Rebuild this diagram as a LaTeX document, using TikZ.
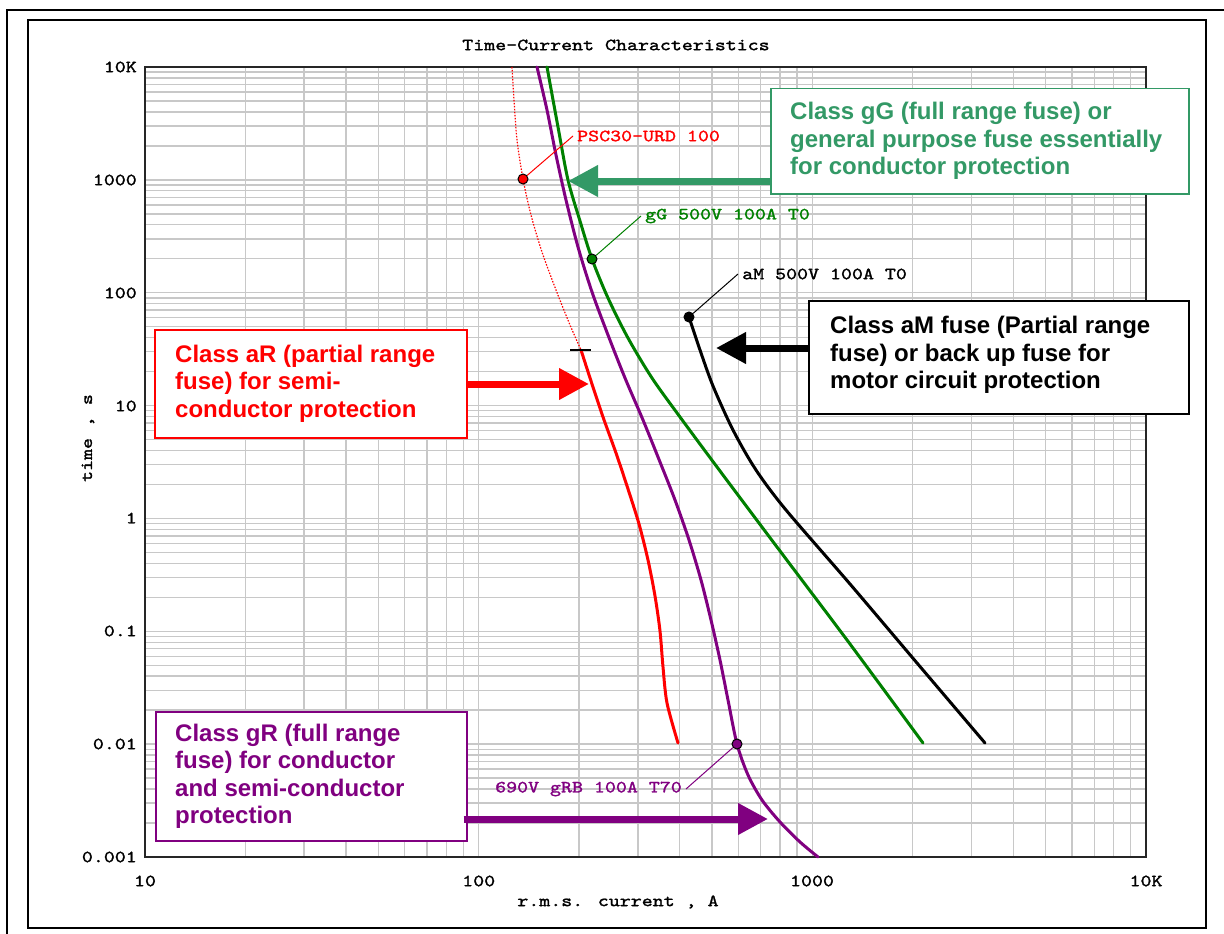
\documentclass[tikz,border=0pt]{standalone}
\usepackage{fontspec}
\setmainfont{Liberation Sans}
\newfontfamily\chartmono[FakeStretch=1.23,FakeBold=1.6]{lmmono10-regular.otf}
\usetikzlibrary{arrows.meta}

\definecolor{boxgreen}{RGB}{51,153,102}
\definecolor{curvegreen}{RGB}{0,128,0}
\definecolor{fusepurple}{RGB}{128,0,128}
\definecolor{gridgray}{RGB}{200,200,200}

\tikzset{
  monotext/.style={font=\chartmono\fontsize{17}{19}\selectfont, inner sep=0pt},
  gridline/.style={draw=gridgray, line width=1.4pt},
  fusecurve/.style={line width=3pt, line join=round, line cap=round},
  leader/.style={line width=1pt},
  marker/.style={circle, draw=black, line width=1pt, minimum size=10pt, inner sep=0pt},
  calloutbox/.style={draw, fill=white, line width=1.5pt, inner sep=0pt, anchor=north west},
  callouttext/.style={anchor=west, align=left, inner sep=0pt,
    font=\bfseries\fontsize{24}{27.5}\selectfont},
  bigarrow/.style={line width=7pt, -{Triangle[length=30pt,width=30pt]}},
  frameline/.style={line width=2pt, black},
}

\begin{document}
\begin{tikzpicture}[x=1pt,y=-1pt]
\useasboundingbox (0,0) rectangle (1224,934);

% page frames
\draw[frameline] (7,934) -- (7,10) -- (1224,10);
\draw[frameline] (28,20) rectangle (1206,928);

% logarithmic grid: current 10 A .. 10 kA, time 1 ms .. 10 ks
\foreach \d in {0,1,2} {
  \foreach \m in {1,...,9} {
    \pgfmathsetmacro\gx{145+333.67*(\d+log10(\m))}
    \draw[gridline] (\gx,67) -- (\gx,857);
  }
}
\foreach \d in {0,...,6} {
  \foreach \m in {1,...,9} {
    \pgfmathsetmacro\gy{857-112.86*(\d+log10(\m))}
    \draw[gridline] (145,\gy) -- (1146,\gy);
  }
}
\draw[line width=1.6pt, black!85] (145,67) rectangle (1146,857);

% axis labels
\node[monotext] (title) at (616,45) {Time-Current Characteristics};
\foreach \y/\t [count=\i] in {67/10K,180/1000,293/100,406/10,518/1,631/0.1,744/0.01,857/0.001}
  \node[monotext, anchor=east] (ytick\i) at (137,\y) {\t};
\foreach \x/\t [count=\i] in {145/10,478.7/100,812/1000,1146/10K}
  \node[monotext] (xtick\i) at (\x,881) {\t};
\node[monotext] (xtitle) at (618,902) {r.m.s. current , A};
\node[monotext, rotate=90] (ytitle) at (88,438) {time , s};

% aR fuse: dotted pre-arcing part and solid operating part
\draw[red, line width=1.2pt, dash pattern=on 1.5pt off 1.5pt]
  plot[smooth] coordinates {(512,67) (514,100) (517,140) (523,179) (531,215)
    (542,252) (556,290) (570,325) (581,350)};
\draw[red, fusecurve]
  plot[smooth] coordinates {(581,350) (591,381) (603,417) (616,453) (628,489)
    (639,524) (648,560) (655,596) (660,631) (663,667) (667,703) (678,743)};
\draw[line width=2pt] (570,350) -- (591,350);

% gR fuse
\draw[fusepurple, fusecurve]
  plot[smooth] coordinates {(537,67) (547,110) (556,155) (566,200) (578,247)
    (592,292) (608,335) (625,378) (643,420) (660,462) (675,500) (689,540)
    (701,580) (711,620) (720,660) (728,700) (737,744) (748,775) (762,800)
    (780,822) (800,842) (818,857)};

% gG fuse
\draw[curvegreen, fusecurve]
  plot[smooth] coordinates {(547,67) (558,127) (568,180) (580,221) (592,259)
    (608,298) (628,338) (652,378) (680,417) (720,471) (780,551) (850,644)
    (923,743)};

% aM fuse
\draw[black, fusecurve]
  plot[smooth] coordinates {(689,317) (700,350) (713,386) (733,430) (756,470)
    (786,510) (850,584) (917,663) (985,743)};

% curve markers and their labels
\node[marker, fill=red] (psdot) at (523,179) {};
\node[monotext, text=red, anchor=west] (pslab) at (577,136) {PSC30-URD 100};
\draw[red, leader] (psdot) -- ([xshift=-4pt]pslab.west);

\node[marker, fill=curvegreen] (ggdot) at (592,259) {};
\node[monotext, text=curvegreen, anchor=west] (gglab) at (645,216) {gG 500V 100A T0};
\draw[curvegreen, leader] (ggdot) -- ([xshift=-4pt]gglab.west);

\node[marker, fill=black] (amdot) at (689,317) {};
\node[monotext, anchor=west] (amlab) at (742,274) {aM 500V 100A T0};
\draw[black, leader] (amdot) -- ([xshift=-4pt]amlab.west);

\node[marker, fill=fusepurple] (grdot) at (737,744) {};
\node[monotext, text=fusepurple, anchor=east] (grlab) at (682,789) {690V gRB 100A T70};
\draw[fusepurple, leader] ([xshift=4pt]grlab.east) -- (grdot);

% callout boxes
\node[calloutbox, draw=boxgreen, minimum width=418pt, minimum height=105pt] (gGbox) at (770,88) {};
\node[callouttext, text=boxgreen] (gGtext) at ([xshift=20pt]gGbox.west)
  {Class gG (full range fuse) or\\general purpose fuse essentially\\for conductor protection};

\node[calloutbox, draw=black, minimum width=380pt, minimum height=113pt] (aMbox) at (808,300) {};
\node[callouttext, text=black] (aMtext) at ([xshift=22pt,yshift=2pt]aMbox.west)
  {Class aM fuse (Partial range\\fuse) or back up fuse for\\motor circuit protection};

\node[calloutbox, draw=red, minimum width=312pt, minimum height=108pt] (aRbox) at (154,329) {};
\node[callouttext, text=red] (aRtext) at ([xshift=21pt]aRbox.west)
  {Class aR (partial range\\fuse) for semi-\\conductor protection};

\node[calloutbox, draw=fusepurple, minimum width=311pt, minimum height=129pt] (gRbox) at (155,711) {};
\node[callouttext, text=fusepurple] (gRtext) at ([xshift=20pt]gRbox.west)
  {Class gR (full range\\fuse) for conductor\\and semi-conductor\\protection};

% pointer arrows
\coordinate (gGtip) at (568,181);
\coordinate (aMtip) at (716,348);
\coordinate (aRtip) at (589,384);
\coordinate (gRtip) at (768,819);
\draw[bigarrow, boxgreen] (gGbox.west |- gGtip) -- (gGtip);
\draw[bigarrow, black] (aMbox.west |- aMtip) -- (aMtip);
\draw[bigarrow, red] (aRbox.east |- aRtip) -- (aRtip);
\draw[bigarrow, fusepurple] ([xshift=-4pt]gRbox.east |- gRtip) -- (gRtip);
\end{tikzpicture}
\end{document}
